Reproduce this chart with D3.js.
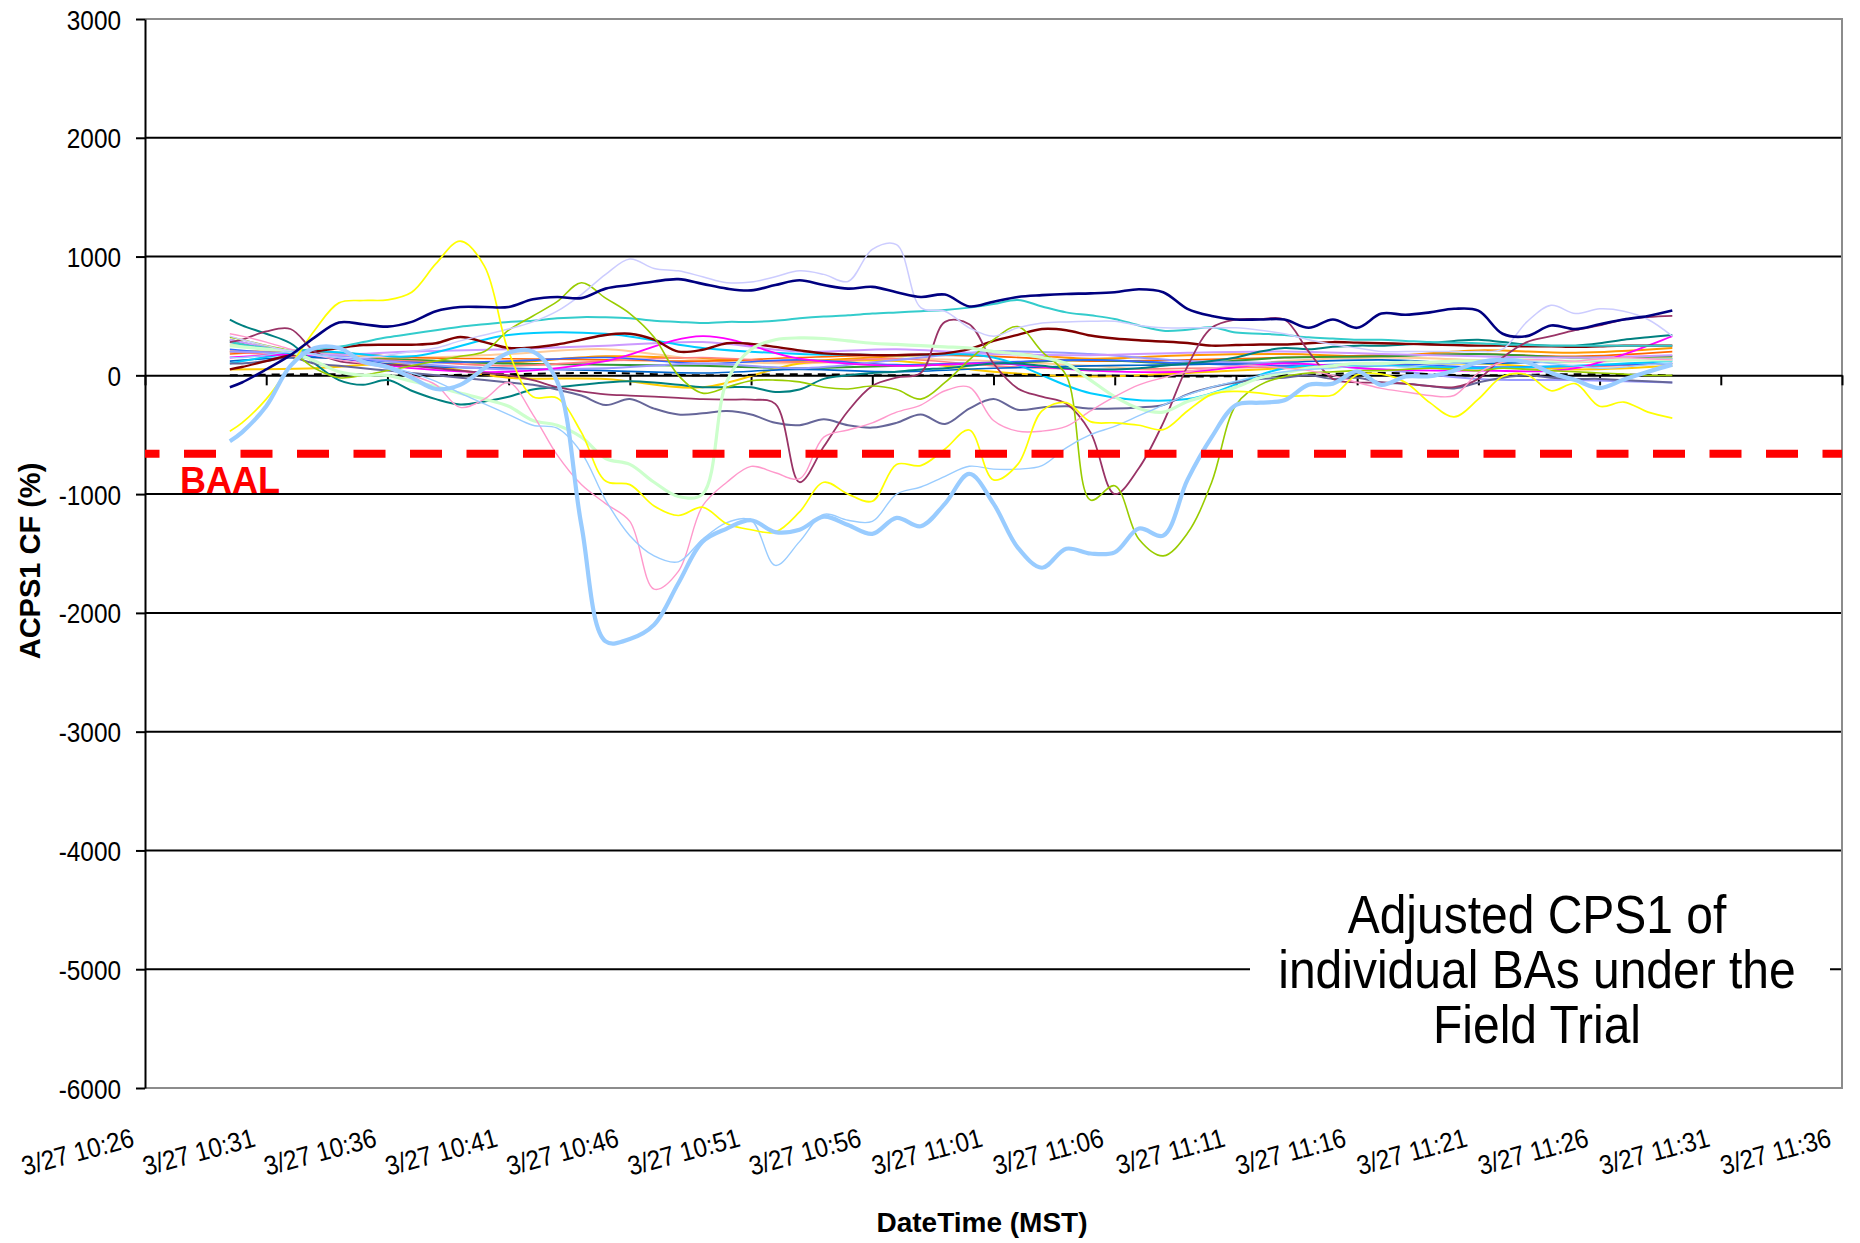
<!DOCTYPE html>
<html>
<head>
<meta charset="utf-8">
<script src="https://cdn.jsdelivr.net/npm/d3@7"></script>
<style>
    body { margin: 0; background: #fff; }
    svg { display: block; font-family: "Liberation Sans", Arial, sans-serif; }
</style>
</head>
<body>
<svg id="chart" width="1860" height="1243"></svg>
<script>
const day = "3/27";
const tickTimes = ["10:26", "10:31", "10:36", "10:41", "10:46", "10:51", "10:56", "11:01",
    "11:06", "11:11", "11:16", "11:21", "11:26", "11:31", "11:36"];
const yTicks = [3000, 2000, 1000, 0, -1000, -2000, -3000, -4000, -5000, -6000];
const baal = -660;

const fineTimes = ["10:29:30",
    "10:30:00", "10:31:00", "10:32:00", "10:33:00", "10:34:00", "10:35:00", "10:36:00", "10:37:00", "10:38:00", "10:39:00",
    "10:40:00", "10:41:00", "10:42:00", "10:43:00", "10:44:00", "10:45:00", "10:46:00", "10:47:00", "10:48:00", "10:49:00",
    "10:50:00", "10:51:00", "10:52:00", "10:53:00", "10:54:00", "10:55:00", "10:56:00", "10:57:00", "10:58:00", "10:59:00",
    "11:00:00", "11:01:00", "11:02:00", "11:03:00", "11:04:00", "11:05:00", "11:06:00", "11:07:00", "11:08:00", "11:09:00",
    "11:10:00", "11:11:00", "11:12:00", "11:13:00", "11:14:00", "11:15:00", "11:16:00", "11:17:00", "11:18:00", "11:19:00",
    "11:20:00", "11:21:00", "11:22:00", "11:23:00", "11:24:00", "11:25:00", "11:26:00", "11:27:00", "11:28:00", "11:29:00"];
const coarseTimes = ["10:29:30", "10:33:00", "10:37:00", "10:41:00", "10:45:00", "10:49:00", "10:53:00", "10:57:00",
    "11:01:00", "11:05:00", "11:09:00", "11:13:00", "11:17:00", "11:21:00", "11:25:00", "11:29:00"];

// BAs with large swings, one value per minute
const navy = [-100, -60, 50, 170, 320, 445, 430, 410, 450, 540, 575, 575, 575, 640, 660, 650, 730, 760, 790, 810,
    770, 730, 715, 760, 800, 760, 730, 745, 700, 660, 680, 580, 620, 660, 675, 685, 690, 700, 725, 700,
    560, 500, 470, 470, 470, 400, 470, 400, 520, 510, 530, 560, 545, 350, 330, 420, 390, 430, 470, 500, 545];
const lavender = [330, 300, 250, 200, 170, 150, 150, 170, 200, 230, 290, 340, 390, 450, 540, 680, 850, 980, 900, 880,
    830, 780, 785, 830, 880, 850, 790, 1060, 1100, 570, 540, 400, 330, 400, 440, 450, 455, 455, 420, 400,
    400, 400, 400, 380, 350, 300, 260, 230, 200, 200, 200, 200, 200, 220, 450, 590, 520, 560, 540, 470, 330];
const yellow = [-470, -400, -200, 80, 380, 610, 630, 635, 700, 940, 1130, 920, 200, -180, -190, -480, -890, -920, -1100, -1180,
    -1110, -1250, -1300, -1320, -1150, -900, -1000, -1060, -750, -760, -620, -460, -880, -750, -300, -230, -390, -400, -420, -457,
    -300, -160, -135, -150, -175, -170, -165, 5, 10, -60, -230, -350, -200, -10, 5, -130, -70, -260, -225, -310, -360];
const thickBlue = [-555, -480, -260, 80, 230, 230, 115, 70, -20, -115, -80, 60, 190, 200, -50, -1260, -2240, -2220, -2100, -1750,
    -1400, -1290, -1220, -1320, -1300, -1190, -1260, -1335, -1200, -1270, -1080, -830, -1080, -1450, -1620, -1460, -1500, -1490, -1290, -1350,
    -880, -520, -250, -230, -210, -80, -70, 34, -80, -10, -8, 40, 110, 130, 110, 20, -40, -107, -36, 30, 90];
const thinBlue = [150, 150, 170, 200, 180, 150, 120, 80, 20, -50, -150, -240, -330, -420, -445, -650, -1050, -1350, -1520, -1570,
    -1380, -1240, -1220, -1600, -1400, -1170, -1220, -1230, -1000, -940, -850, -766, -790, -790, -760, -610, -500, -430, -340, -250,
    -165, -100, -50, 0, 30, 50, 60, 80, 80, 70, 90, 100, 110, 120, 120, 100, 80, 60, 70, 90, 100];
const pink = [350, 330, 280, 220, 170, 130, 100, 60, 0, -80, -270, -200, -60, -330, -670, -920, -1080, -1230, -1800, -1650,
    -1100, -900, -766, -820, -870, -520, -460, -400, -310, -250, -130, -100, -380, -470, -470, -430, -300, -180, -80, -20,
    30, 60, 80, 80, 60, 40, 0, -60, -110, -140, -170, -170, 20, 110, 130, 130, 120, 140, 150, 140, 130];
const paleGreen = [250, 240, 220, 200, 120, 30, 0, 0, -50, -95, -150, -200, -260, -380, -420, -520, -700, -750, -900, -1020,
    -1000, -50, 220, 300, 315, 310, 290, 270, 260, 250, 240, 230, 200, 180, 150, 100, -40, -180, -280, -310,
    -220, -160, -100, -20, 20, 60, 80, 100, 100, 110, 110, 120, 120, 130, 130, 120, 120, 130, 130, 130, 130];
const olive = [320, 300, 250, 200, 60, -20, 0, 40, 80, 120, 160, 200, 380, 500, 620, 780, 650, 520, 320, 0,
    -150, -100, -45, -40, -55, -100, -115, -90, -120, -200, -60, 130, 300, 410, 200, 0, -1050, -930, -1380, -1520,
    -1330, -900, -250, -80, -10, 20, 30, 40, 40, 50, 60, 50, 40, 60, 50, 40, 30, 20, 10, 0, 0];
const plum = [280, 300, 370, 390, 200, 120, 100, 90, 80, 60, 40, 20, 0, -40, -100, -135, -160, -170, -180, -190,
    -200, -205, -205, -240, -900, -600, -300, -90, -20, 20, 450, 430, 100, -110, -180, -240, -480, -1000, -780, -400,
    76, 400, 470, 474, 470, 200, -30, -60, -60, -70, -90, -100, -30, 150, 280, 330, 380, 420, 470, 490, 500];
const slate = [100, 100, 120, 150, 100, 80, 60, 40, 20, 0, -20, -40, -60, -80, -120, -170, -250, -200, -280, -330,
    -320, -300, -330, -400, -420, -370, -420, -440, -400, -330, -410, -280, -200, -290, -270, -260, -280, -280, -270, -250,
    -160, -100, -60, -30, -20, 0, -30, -20, -60, -70, -90, -110, -60, -20, 0, -20, -30, -30, -40, -50, -60];
const turquoise = [280, 260, 230, 210, 220, 240, 280, 320, 350, 380, 410, 430, 450, 460, 480, 490, 488, 480, 460, 450,
    440, 450, 450, 460, 480, 495, 505, 520, 530, 540, 550, 570, 600, 635, 580, 530, 505, 475, 420, 375,
    384, 405, 360, 350, 340, 320, 310, 300, 300, 290, 280, 275, 270, 260, 255, 250, 250, 250, 250, 250, 250];
const darkRed = [50, 70, 120, 170, 200, 230, 255, 258, 258, 270, 323, 280, 230, 235, 260, 300, 340, 350, 300, 200,
    215, 270, 265, 240, 210, 185, 175, 170, 170, 175, 185, 220, 290, 340, 390, 380, 335, 310, 295, 285,
    272, 250, 255, 260, 260, 270, 280, 275, 270, 265, 260, 255, 250, 250, 245, 245, 240, 245, 250, 250, 250];
const teal = [470, 420, 350, 270, 100, -40, -80, -40, -130, -200, -245, -220, -180, -120, -100, -80, -60, -50, -60, -80,
    -100, -100, -100, -140, -120, -30, 0, 20, 30, 50, 60, 80, 100, 100, 80, 60, 50, 50, 60, 80,
    100, 120, 150, 200, 230, 220, 240, 250, 250, 260, 270, 290, 300, 280, 260, 250, 250, 270, 300, 320, 340];

// BAs staying close to zero, one value every four minutes
const orange = [200, 190, 130, 110, 160, 140, 120, 160, 190, 140, 170, 180, 160, 210, 190, 230];
const lightOrange = [260, 190, 150, 180, 220, 130, 100, 140, 120, 80, 40, 120, 150, 130, 110, 150];
const magenta = [150, 170, 60, 30, 120, 330, 140, 80, 100, 40, 30, 100, 50, 40, 60, 330];
const cyan = [100, 200, 160, 340, 350, 230, 180, 170, 150, -150, -200, 60, 80, 60, 80, 120];
const lightPurple = [200, 180, 100, 50, 60, 100, 60, 130, 200, 180, 120, 100, 50, -30, -40, -60];
const mediumPurple = [300, 180, 200, 220, 250, 280, 200, 220, 180, 170, 190, 200, 180, 160, 150, 170];
const green = [300, 160, 130, 100, 90, 80, 60, 80, 100, 130, 100, 150, 160, 180, 150, 160];
const gold = [50, 60, 100, -20, -30, -100, 100, 120, 30, -10, 20, 60, 80, 100, 50, 80];
const salmon = [200, 150, 120, 80, 120, 150, 110, 140, 80, 50, 60, 70, 90, 60, 70, 100];
const royal = [220, 160, 110, 120, 150, 100, 130, 90, 110, 130, 100, 80, 100, 70, 80, 100];
const oceanBlue = [120, 150, 80, 60, 40, 20, 50, 30, 60, 80, 90, 110, 130, 100, 120, 140];
const redOrange = [180, 200, 150, 140, 130, 120, 150, 170, 160, 120, 130, 150, 170, 180, 160, 200];
const blackDash = [0, 10, 0, 10, 20, 0, 10, 0, 5, 0, -10, 0, 20, 0, 10, 0];

const coarseSeries = [
    { values: orange, color: "#FF9900", width: 2 },
    { values: lightOrange, color: "#FFCC99", width: 2 },
    { values: redOrange, color: "#FF6600", width: 1.6 },
    { values: green, color: "#339933", width: 2 },
    { values: gold, color: "#FFCC00", width: 2 },
    { values: salmon, color: "#FF8080", width: 1.6 },
    { values: royal, color: "#3366FF", width: 1.6 },
    { values: oceanBlue, color: "#0066CC", width: 1.6 },
    { values: lightPurple, color: "#9999FF", width: 2 },
    { values: mediumPurple, color: "#CC99FF", width: 2 },
    { values: cyan, color: "#00CCFF", width: 2 },
    { values: magenta, color: "#FF00FF", width: 1.8 },
    { values: blackDash, color: "#000000", width: 2, dash: "8,6" }
];
const fineSeries = [
    { values: teal, color: "#008080", width: 2 },
    { values: slate, color: "#666699", width: 2 },
    { values: darkRed, color: "#800000", width: 2.4 },
    { values: turquoise, color: "#33CCCC", width: 2 },
    { values: plum, color: "#993366", width: 1.8 },
    { values: olive, color: "#99CC00", width: 1.6 },
    { values: paleGreen, color: "#CCFFCC", width: 3.2 },
    { values: pink, color: "#FF99CC", width: 1.4 },
    { values: lavender, color: "#CCCCFF", width: 1.5 },
    { values: thinBlue, color: "#99CCFF", width: 1.4 },
    { values: yellow, color: "#FFFF00", width: 1.7 },
    { values: navy, color: "#000080", width: 2.6 },
    { values: thickBlue, color: "#99CCFF", width: 4.2 }
];

const parseTime = d3.timeParse("%m/%d %H:%M:%S");
const toDate = (t) => parseTime(`${day} ${t.length === 5 ? t + ":00" : t}`);
const tickDates = tickTimes.map(toDate);

const x = d3.scaleTime()
    .domain([tickDates[0], tickDates[tickDates.length - 1]])
    .range([145, 1842]);
const y = d3.scaleLinear()
    .domain([-6000, 3000])
    .range([1088, 19]);

const svg = d3.select("#chart");
svg.append("rect").attr("width", 1860).attr("height", 1243).attr("fill", "#fff");

// gridlines
svg.append("g")
    .selectAll("line")
    .data(yTicks.filter((d) => d !== 0 && d !== 3000 && d !== -6000))
    .join("line")
    .attr("x1", x.range()[0]).attr("x2", x.range()[1])
    .attr("y1", (d) => y(d)).attr("y2", (d) => y(d))
    .attr("stroke", "#000").attr("stroke-width", 2);

// plot frame (top, right, bottom)
svg.append("path")
    .attr("d", `M${x.range()[0]},${y(3000)}H${x.range()[1]}V${y(-6000)}H${x.range()[0]}`)
    .attr("fill", "none").attr("stroke", "#8c8c8c").attr("stroke-width", 2);

// annotation box hides the gridline behind it
svg.append("rect")
    .attr("x", 1250).attr("y", 885).attr("width", 580).attr("height", 175)
    .attr("fill", "#fff");
const noteLines = ["Adjusted CPS1 of", "individual BAs under the", "Field Trial"];
svg.append("g")
    .selectAll("text")
    .data(noteLines)
    .join("text")
    .attr("transform", (d, i) => `translate(1537,${933 + i * 55}) scale(1,1.1)`)
    .attr("text-anchor", "middle")
    .attr("font-size", 48)
    .attr("fill", "#000")
    .text((d) => d);

// zero line with category ticks
const zeroAxis = svg.append("g")
    .attr("transform", `translate(0,${y(0)})`)
    .call(d3.axisBottom(x).tickValues(tickDates).tickSize(10).tickSizeOuter(0).tickFormat(""));
zeroAxis.select(".domain").attr("stroke", "#000").attr("stroke-width", 2);
zeroAxis.selectAll(".tick line").attr("stroke", "#000").attr("stroke-width", 2);

// date labels
const fmt = d3.timeFormat("%-m/%d %H:%M");
const dateAxis = svg.append("g")
    .attr("transform", `translate(0,${y(-6000)})`)
    .call(d3.axisBottom(x).tickValues(tickDates).tickSize(0).tickFormat(fmt));
dateAxis.select(".domain").remove();
dateAxis.selectAll("text")
    .attr("x", 0).attr("y", 0).attr("dy", null)
    .attr("text-anchor", "end")
    .attr("font-size", 27)
    .attr("font-family", "Liberation Sans, Arial, sans-serif")
    .attr("fill", "#000")
    .attr("transform", "translate(-10,58) rotate(-15) scale(0.9,1)");

// value axis
const yAxis = svg.append("g")
    .attr("transform", `translate(${x.range()[0]},0)`)
    .call(d3.axisLeft(y).tickValues(yTicks).tickSize(9).tickSizeOuter(0).tickFormat((d) => String(d)));
yAxis.select(".domain").attr("stroke", "#000").attr("stroke-width", 2);
yAxis.selectAll(".tick line").attr("stroke", "#000").attr("stroke-width", 2);
yAxis.selectAll("text")
    .attr("x", 0).attr("dy", "0.36em")
    .attr("font-size", 28)
    .attr("font-family", "Liberation Sans, Arial, sans-serif")
    .attr("fill", "#000")
    .attr("transform", "translate(-24,0) scale(0.87,1)");

// series
const drawSeries = (list, times) => {
    const dates = times.map(toDate);
    const line = d3.line()
        .x((d) => x(d[0]))
        .y((d) => y(d[1]))
        .curve(d3.curveCatmullRom.alpha(0.5));
    svg.append("g")
        .selectAll("path")
        .data(list)
        .join("path")
        .attr("d", (s) => line(d3.zip(dates, s.values)))
        .attr("fill", "none")
        .attr("stroke", (s) => s.color)
        .attr("stroke-width", (s) => s.width)
        .attr("stroke-dasharray", (s) => s.dash ?? null)
        .attr("stroke-linejoin", "round");
};
drawSeries(coarseSeries, coarseTimes);
drawSeries(fineSeries, fineTimes);

// BAAL limit
svg.append("line")
    .attr("x1", x.range()[0]).attr("x2", x.range()[1])
    .attr("y1", y(baal)).attr("y2", y(baal))
    .attr("stroke", "#ff0000").attr("stroke-width", 8)
    .attr("stroke-dasharray", "32,24.5").attr("stroke-dashoffset", 17.5);
svg.append("text")
    .attr("x", x.range()[0] + 35).attr("y", y(baal) + 39)
    .attr("font-size", 36).attr("font-weight", "bold")
    .attr("fill", "#ff0000")
    .text("BAAL");

// axis titles
svg.append("text")
    .attr("transform", "translate(40,561) rotate(-90)")
    .attr("text-anchor", "middle")
    .attr("font-size", 29).attr("font-weight", "bold")
    .text("ACPS1 CF (%)");
svg.append("text")
    .attr("x", 982).attr("y", 1232)
    .attr("text-anchor", "middle")
    .attr("font-size", 28).attr("font-weight", "bold")
    .text("DateTime (MST)");
</script>
</body>
</html>
